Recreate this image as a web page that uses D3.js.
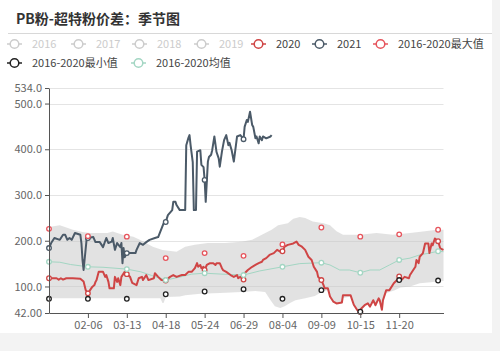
<!DOCTYPE html>
<html>
<head>
<meta charset="utf-8">
<script src="https://cdn.jsdelivr.net/npm/d3@7"></script>
<style>
  body { margin: 0; background: #f3f3f3; }
  svg { display: block; font-family: "Noto Sans CJK SC", "Noto Sans", sans-serif; }
</style>
</head>
<body>
<svg width="500" height="351"></svg>
<script>
// données : [jour de l'année, valeur]
const s2020 = [[0,118],[7,118],[9,115],[11,118],[13,115],[16,118],[22,118],[29,117],[32,111],[34,92],[36,85],[38,92],[40,99],[42,103],[43,110],[44,114],[46,132],[50,132],[52,121],[53,125],[55,110],[56,96],[60,96],[61,121],[63,110],[64,118],[66,103],[67,121],[70,132],[72,127],[75,121],[77,108],[81,103],[83,118],[86,121],[87,114],[90,125],[92,114],[97,118],[98,129],[101,121],[104,114],[108,113],[112,121],[115,125],[118,121],[123,125],[126,125],[129,132],[132,132],[135,140],[137,151],[138,143],[140,147],[141,140],[143,143],[144,136],[146,147],[149,151],[152,151],[154,147],[155,151],[158,151],[160,140],[161,136],[164,132],[168,125],[171,121],[174,125],[175,118],[177,121],[180,115],[181,129],[184,136],[188,143],[191,147],[194,151],[197,154],[198,158],[201,162],[204,169],[208,173],[211,180],[214,176],[216,177],[218,187],[221,191],[226,194],[229,198],[231,191],[234,187],[237,180],[240,165],[243,158],[245,143],[248,132],[249,121],[252,114],[254,103],[255,96],[258,96],[260,78],[263,67],[266,63],[271,65],[272,81],[279,81],[280,74],[282,60],[285,49],[288,45],[289,52],[292,59],[295,63],[297,56],[300,70],[302,59],[305,74],[306,70],[308,49],[309,70],[312,92],[315,92],[319,107],[322,114],[324,122],[326,114],[329,121],[333,118],[334,125],[337,136],[339,143],[340,158],[342,151],[343,165],[346,173],[348,194],[351,194],[352,173],[354,194],[355,190],[357,205],[360,199],[362,183],[365,180]];

const s2021 = [[0,184],[2,195],[5,206],[10,202],[13,213],[15,213],[17,202],[19,206],[21,202],[24,217],[29,213],[30,195],[31,158],[32,136],[35,208],[36,206],[41,208],[43,197],[47,197],[50,186],[53,206],[55,195],[58,198],[59,206],[61,180],[63,195],[66,186],[67,195],[68,151],[69,184],[70,164],[72,173],[80,173],[81,180],[84,195],[87,191],[90,197],[93,202],[98,206],[101,208],[106,238],[108,241],[110,256],[114,267],[115,285],[117,285],[118,278],[121,267],[126,267],[127,409],[129,425],[130,431],[131,409],[133,372],[134,267],[136,267],[137,395],[140,398],[141,366],[143,361],[144,333],[145,285],[147,373],[148,383],[150,388],[151,398],[153,428],[155,394],[157,380],[158,362],[160,395],[162,420],[164,431],[166,409],[167,414],[169,398],[171,373],[174,428],[177,431],[180,422],[181,449],[183,464],[184,460],[186,482],[188,453],[189,449],[191,424],[192,428],[194,413],[195,428],[197,420],[198,428],[201,424],[205,428],[206,431]];

const sMoyenne = [[0,154],[10,153],[20,148],[36,143],[50,142],[72,138],[85,132],[95,124],[108,114],[120,120],[132,127],[144,129],[160,127],[180,125],[195,134],[216,143],[232,150],[252,152],[260,147],[269,136],[278,136],[288,130],[297,136],[306,136],[315,147],[324,158],[334,162],[343,169],[352,173],[360,177],[365,176]];

const sMax = [[0,226],[36,210],[72,209],[108,162],[144,173],[180,167],[216,192],[252,229],[288,209],[324,214],[360,224]];
const sMin = [[0,73],[36,73],[72,73],[108,83],[144,89],[180,94],[216,73],[252,92],[288,45],[324,114],[360,113]];

// bande grise 2016-2020
const bandeHaut = [[0,230],[10,234],[22,224],[31,219],[38,217],[54,217],[59,220],[68,213],[78,209],[84,202],[96,187],[105,180],[118,176],[126,187],[135,191],[147,195],[163,195],[178,198],[188,202],[197,213],[206,224],[212,234],[221,238],[226,248],[232,252],[237,250],[244,242],[254,238],[260,234],[266,221],[272,213],[288,213],[303,217],[318,213],[334,217],[346,220],[359,224],[365,224]];
const bandeBas = [[0,74],[47,74],[84,74],[103,74],[105,64],[106,64],[108,77],[121,78],[126,81],[140,84],[158,86],[178,88],[191,90],[200,88],[205,70],[209,57],[214,53],[218,57],[223,64],[228,70],[237,74],[246,79],[253,89],[258,92],[260,78],[263,67],[266,63],[271,63],[272,75],[279,78],[282,60],[285,49],[288,45],[289,50],[292,57],[295,61],[297,55],[300,66],[302,57],[305,70],[308,47],[309,66],[312,85],[315,88],[320,92],[325,98],[334,100],[343,107],[353,109],[359,111],[365,112]];

const xTicks = ['02-06','03-13','04-18','05-24','06-29','08-04','09-09','10-15','11-20'];
const yTicks = [534, 500, 400, 300, 200, 100, 42];
const yTickLabels = ['534.0','500.0','400.0','300.0','200.0','100.0','42.00'];
const gridValues = [534, 500, 400, 300, 200, 100];

const legendNames = ['2016','2017','2018','2019','2020','2021','2016-2020最大值','2016-2020最小值','2016-2020均值'];
const legendActive = [false,false,false,false,true,true,true,true,true];

// couleurs
const rouge = '#cf4545', ardoise = '#4b5a68', rougeMax = '#e6545c', noir = '#222', vert = '#a3d6c3';
const legendColors = ['#ccc','#ccc','#ccc','#ccc',rouge,ardoise,rougeMax,noir,vert];
// position de chaque élément de légende
const legendPos = [[7,44],[71,44],[132,44],[194,44],[251,44],[312,44],[373,44],[7,63],[131,63]];

const svg = d3.select('svg');

// panneau blanc
svg.append('rect').attr('width', 492).attr('height', 333).attr('fill', '#fff');

// titre
svg.append('text')
    .attr('x', 16).attr('y', 24)
    .attr('font-size', 14).attr('font-weight', 'bold').attr('fill', '#333')
    .text('PB粉-超特粉价差：季节图');
svg.append('line')
    .attr('x1', 8).attr('x2', 492).attr('y1', 33.5).attr('y2', 33.5)
    .attr('stroke', '#d8d8d8');

// échelles
const jours = d3.timeDay.range(new Date(2020, 0, 1), new Date(2021, 0, 1)).map(d3.timeFormat('%m-%d'));
const x = d3.scalePoint().domain(jours).range([49, 443.5]);
const y = d3.scaleLinear().domain([42, 534]).range([313, 88]);
const px = d => x(jours[d[0]]);
const py = d => y(d[1]);

// grille
svg.append('g').selectAll('line').data(gridValues).join('line')
    .attr('x1', 49).attr('x2', 443.5)
    .attr('y1', d => Math.round(y(d)) + 0.5).attr('y2', d => Math.round(y(d)) + 0.5)
    .attr('stroke', '#e4e4e4');

// bande min-max
const ligne = d3.line().x(px).y(py);
svg.append('path')
    .attr('d', ligne(bandeHaut.concat(bandeBas.slice().reverse())) + 'Z')
    .attr('fill', '#c6c6c6').attr('fill-opacity', 0.5);

// courbes
svg.append('path').attr('d', ligne(sMoyenne))
    .attr('fill', 'none').attr('stroke', vert).attr('stroke-width', 1);
svg.append('path').attr('d', ligne(s2020))
    .attr('fill', 'none').attr('stroke', rouge).attr('stroke-width', 2).attr('stroke-linejoin', 'round');
svg.append('path').attr('d', ligne(s2021))
    .attr('fill', 'none').attr('stroke', ardoise).attr('stroke-width', 2).attr('stroke-linejoin', 'round');

// symboles tous les 36 jours
function symboles(data, couleur) {
    svg.append('g').selectAll('circle')
        .data(data.filter(d => d[0] % 36 === 0)).join('circle')
        .attr('cx', px).attr('cy', py).attr('r', 2.3)
        .attr('fill', '#fff').attr('stroke', couleur).attr('stroke-width', 1.3);
}
symboles(s2020, rouge);
symboles(s2021, ardoise);
symboles(sMax, rougeMax);
symboles(sMin, noir);
symboles(sMoyenne, vert);

// axes
const axeX = svg.append('g').attr('transform', 'translate(0,313)')
    .call(d3.axisBottom(x).tickValues(xTicks).tickSize(5).tickSizeOuter(0));
const axeY = svg.append('g').attr('transform', 'translate(49,0)')
    .call(d3.axisLeft(y).tickValues(yTicks).tickFormat((d, i) => yTickLabels[i]).tickSize(4).tickSizeOuter(0));
[axeX, axeY].forEach(a => {
    a.select('.domain').attr('stroke', '#555');
    a.selectAll('.tick line').attr('stroke', '#555');
    a.selectAll('text').attr('fill', '#666').attr('font-size', 11)
        .attr('font-family', '"Noto Sans CJK SC", "Noto Sans", sans-serif');
});

// légende
legendNames.forEach((nom, i) => {
    const [lx, ly] = legendPos[i];
    const g = svg.append('g').attr('transform', `translate(${lx},${ly})`);
    const c = legendColors[i];
    g.append('line').attr('x1', 0).attr('x2', 15).attr('y1', 0).attr('y2', 0)
        .attr('stroke', c).attr('stroke-width', 1.5);
    g.append('circle').attr('cx', 7.5).attr('cy', 0).attr('r', 4.3)
        .attr('fill', '#fff').attr('stroke', c).attr('stroke-width', 1.5);
    g.append('text').attr('x', 25).attr('y', 4)
        .attr('font-size', 11).attr('fill', legendActive[i] ? '#444' : '#ccc').text(nom);
});
</script>
</body>
</html>
